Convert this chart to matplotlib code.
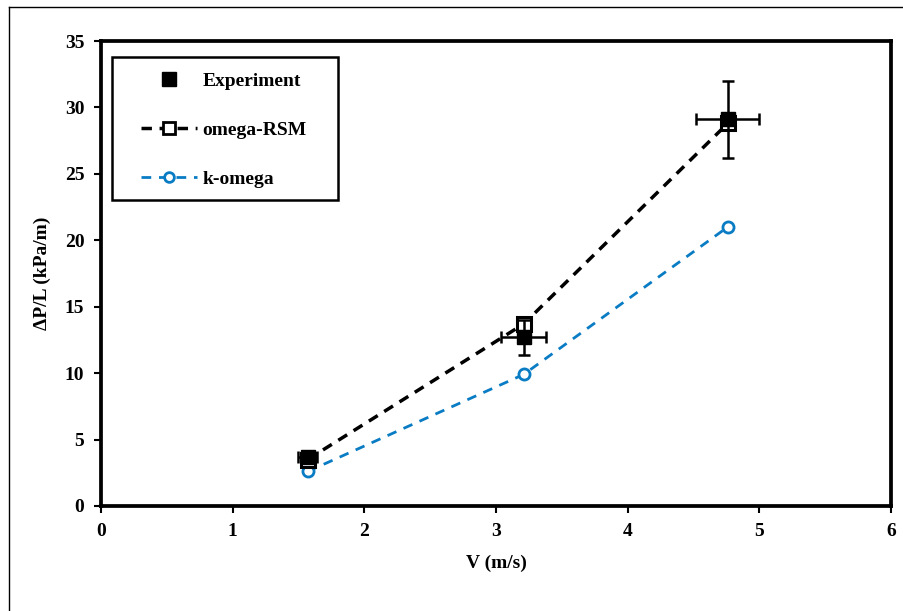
import matplotlib
matplotlib.use("Agg")
import matplotlib.pyplot as plt
from matplotlib.lines import Line2D
from matplotlib.patches import Rectangle

V = [1.57, 3.21, 4.76]
exp_dp = [3.7, 12.7, 29.1]
exp_xerr = [0.07, 0.17, 0.24]
exp_yerr = [0.3, 1.3, 2.9]
rsm_dp = [3.5, 13.7, 28.8]
kom_dp = [2.6, 9.9, 21.0]

xticks = [0, 1, 2, 3, 4, 5, 6]
yticks = [0, 5, 10, 15, 20, 25, 30, 35]

blue = '#0A7CC4'
FS = 14
plt.rcParams['font.family'] = ['Liberation Serif', 'DejaVu Serif']
plt.rcParams['font.weight'] = 'bold'

fig = plt.figure(figsize=(9.04, 6.11), dpi=100)
ax = fig.add_axes([101/904, 1-506/611, 790/904, 465/611])

# outer frame lines
fig.add_artist(Line2D([9/904, 9/904], [0, 1-7/611], color='black', lw=1.0, transform=fig.transFigure))
fig.add_artist(Line2D([9/904, 1], [1-7/611, 1-7/611], color='black', lw=1.0, transform=fig.transFigure))

kdash = (0, (3.5, 2.8))
rdash = (0, (3, 2.2))
ax.plot(V, kom_dp, linestyle=kdash, color=blue, lw=2.0, marker='o', ms=8,
        mfc='white', mec=blue, mew=2, zorder=3)
ax.plot(V, rsm_dp, linestyle=rdash, color='black', lw=2.5, marker='s', ms=10,
        mfc='white', mec='black', mew=2.2, zorder=4)
ax.errorbar(V, exp_dp, xerr=exp_xerr, yerr=exp_yerr, fmt='s', color='black', ms=10,
            ecolor='black', elinewidth=1.8, capsize=4, capthick=1.8, zorder=5)

ax.set_xlim(0, 6)
ax.set_ylim(0, 35)
ax.set_xticks(xticks)
ax.set_yticks(yticks)
ax.tick_params(direction='out', length=5, width=1.5, labelsize=FS, pad=7)
for lab in ax.get_xticklabels() + ax.get_yticklabels():
    lab.set_fontweight('bold')
for s in ax.spines.values():
    s.set_linewidth(2.7)

ax.set_xlabel('V (m/s)', fontsize=FS, fontweight='bold', labelpad=11)
ax.set_ylabel('ΔP/L (kPa/m)', fontsize=FS, fontweight='bold', labelpad=10)

# legend frame
ax.add_patch(Rectangle(((112-101)/790, (506-200)/465), (338-112)/790, (200-57)/465,
                       transform=ax.transAxes, fill=True, facecolor='white',
                       edgecolor='black', lw=1.8, zorder=6, clip_on=False))

h_exp = Line2D([], [], linestyle='none', marker='s', color='black', ms=10)
h_rsm = Line2D([], [], linestyle=rdash, color='black', lw=2.5, marker='s', ms=9,
               mfc='white', mec='black', mew=2)
h_kom = Line2D([], [], linestyle=kdash, color=blue, lw=2.0, marker='o', ms=7,
               mfc='white', mec=blue, mew=2)
leg = ax.legend([h_exp, h_rsm, h_kom], ['Experiment', 'omega-RSM', 'k-omega'],
                loc='upper left', bbox_to_anchor=((141-101)/790, (506-72)/465), borderaxespad=0,
                fontsize=FS, labelspacing=1.62, handlelength=2.9, handletextpad=0.25,
                borderpad=0, frameon=False)
leg.set_zorder(7)
for t in leg.get_texts():
    t.set_fontweight('bold')

fig.savefig('out.png', dpi=100)
